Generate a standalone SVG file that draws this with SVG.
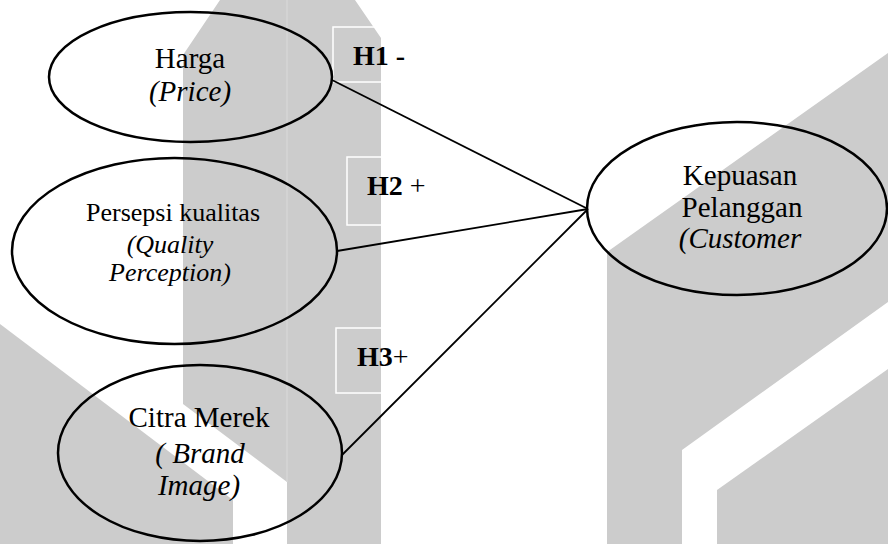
<svg xmlns="http://www.w3.org/2000/svg" width="888" height="544" viewBox="0 0 888 544">
  <style>
    .wm { fill: #cccccc; }
    .seam { stroke: #dadada; stroke-width: 1; }
    .hbox { fill: none; stroke: #ffffff; stroke-width: 1.5; }
    .node { fill: none; stroke: #000000; stroke-width: 2.5; }
    .edge { stroke: #000000; stroke-width: 1.8; fill: none; }
    .lbl { fill: #000000; text-anchor: middle; }
    .it { font-style: italic; }
    .hl { font-weight: bold; font-size: 28px; text-anchor: start; }
    .plain { font-weight: normal; }
  </style>

  <!-- background watermark -->
  <g id="watermark">
    <polygon class="wm" points="220,0 355,0 381,38 381,544 287,544 287,482 183,404 183,55"/>
    <line class="seam" x1="287" y1="0" x2="287" y2="482"/>
    <polygon class="wm" points="0,324 233,500 233,544 0,544"/>
    <polygon class="wm" points="607,252 888,53 888,302 682,450 682,544 607,544"/>
    <polygon class="wm" points="717,490 888,369 888,544 717,544"/>
  </g>

  <!-- hypothesis label frames -->
  <g id="label-frames">
    <rect class="hbox" x="333" y="27" width="90" height="55"/>
    <rect class="hbox" x="347" y="157" width="80" height="68"/>
    <rect class="hbox" x="336" y="328" width="80" height="65"/>
  </g>

  <!-- connectors -->
  <g id="connectors">
    <line class="edge" x1="332" y1="80" x2="588" y2="209"/>
    <line class="edge" x1="337" y1="251" x2="588" y2="209"/>
    <line class="edge" x1="342" y1="455" x2="588" y2="209"/>
  </g>

  <g font-family="'Liberation Serif', 'DejaVu Serif', serif">
    <g id="node-harga">
      <ellipse class="node" cx="190.5" cy="77" rx="141.5" ry="65"/>
      <text class="lbl" x="190" y="68" font-size="29">Harga</text>
      <text class="lbl it" x="190" y="101" font-size="29">(Price)</text>
    </g>

    <g id="node-persepsi">
      <ellipse class="node" cx="174.5" cy="251" rx="162.5" ry="93"/>
      <text class="lbl" x="173" y="221" font-size="26">Persepsi kualitas</text>
      <text class="lbl it" x="170" y="253" font-size="26">(Quality</text>
      <text class="lbl it" x="170" y="281" font-size="26">Perception)</text>
    </g>

    <g id="node-citra">
      <ellipse class="node" cx="200" cy="453" rx="142" ry="88"/>
      <text class="lbl" x="199" y="427" font-size="29">Citra Merek</text>
      <text class="lbl it" x="200" y="463" font-size="29">( Brand</text>
      <text class="lbl it" x="199" y="495" font-size="29">Image)</text>
    </g>

    <g id="node-kepuasan">
      <ellipse class="node" cx="737" cy="208.5" rx="150" ry="86.5"/>
      <text class="lbl" x="740" y="185" font-size="29">Kepuasan</text>
      <text class="lbl" x="742" y="217" font-size="29">Pelanggan</text>
      <text class="lbl it" x="740" y="248" font-size="29">(Customer</text>
    </g>

    <!-- hypothesis labels -->
    <g id="hypotheses">
      <text class="hl" x="353" y="65">H1 -</text>
      <text class="hl" x="367" y="195">H2 <tspan class="plain">+</tspan></text>
      <text class="hl" x="357" y="366">H3<tspan class="plain">+</tspan></text>
    </g>
  </g>
</svg>
